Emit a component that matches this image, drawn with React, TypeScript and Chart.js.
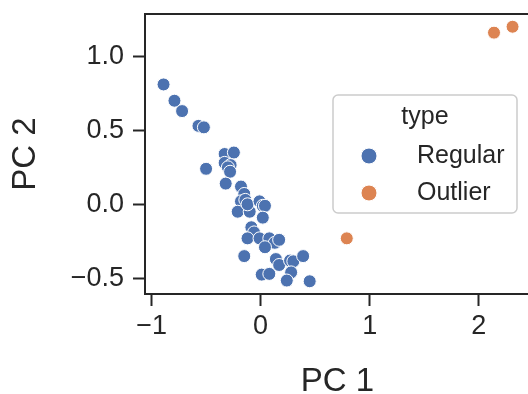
import React, { useEffect, useRef } from "react";
import { Chart, registerables } from "chart.js";

Chart.register(...registerables);

// ---- data ----
const regularX = [
  -0.89, -0.79, -0.72, -0.57, -0.52, -0.5, -0.33, -0.245, -0.33, -0.275, -0.3, -0.28,
  -0.32, -0.18, -0.15, -0.18, -0.14, -0.21, -0.1, -0.12, -0.01, 0.02, 0.04, 0.02,
  -0.085, -0.06, -0.12, -0.01, 0.08, 0.13, 0.17, 0.04, -0.15, 0.14, 0.17, 0.27,
  0.3, 0.39, 0.28, 0.01, 0.08, 0.24, 0.45,
];
const regularY = [
  0.81, 0.7, 0.63, 0.53, 0.52, 0.24, 0.34, 0.35, 0.28, 0.265, 0.25, 0.22,
  0.14, 0.12, 0.07, 0.02, 0.03, -0.05, -0.05, 0.0, 0.02, -0.01, -0.01, -0.09,
  -0.155, -0.19, -0.23, -0.23, -0.23, -0.26, -0.24, -0.29, -0.35, -0.37, -0.41, -0.38,
  -0.385, -0.35, -0.46, -0.475, -0.47, -0.515, -0.52,
];
const outlierX = [0.79, 2.14, 2.31];
const outlierY = [-0.23, 1.16, 1.2];

const seriesNames = ["Regular", "Outlier"];
const seriesColors = ["#4c72b0", "#dd8452"];
const legendTitle = "type";
const xTitle = "PC 1";
const yTitle = "PC 2";
const xTicks = [-1, 0, 1, 2];
const yTicks = [-0.5, 0, 0.5, 1.0];
const xRange = [-1.06, 2.47];
const yRange = [-0.606, 1.286];

const FONT = '"Liberation Sans", Arial, Helvetica, sans-serif';
const TEXT = "#262626";

const fmt = (v: number, d: number) => {
  const s = Math.abs(v).toFixed(d);
  return v < -1e-9 ? "\u2212" + s : s;
};

const framePlugin = {
  id: "frame",
  afterDatasetsDraw(chart: any) {
    const { ctx, chartArea } = chart;
    ctx.save();
    ctx.strokeStyle = TEXT;
    ctx.lineWidth = 2;
    ctx.beginPath();
    ctx.moveTo(chartArea.left - 1, chartArea.top);
    ctx.lineTo(chartArea.right + 1, chartArea.top);
    ctx.moveTo(chartArea.right, chartArea.top - 1);
    ctx.lineTo(chartArea.right, chartArea.bottom + 1);
    ctx.stroke();
    ctx.restore();
  },
};

const legendPlugin = {
  id: "customLegend",
  afterDatasetsDraw(chart: any) {
    const { ctx, chartArea } = chart;
    const left = chartArea.right - 197;
    const top = chartArea.top + 81;
    const w = 184;
    const h = 118;
    ctx.save();
    ctx.beginPath();
    (ctx as any).roundRect(left, top, w, h, 5);
    ctx.fillStyle = "rgba(255,255,255,0.85)";
    ctx.fill();
    ctx.strokeStyle = "#cccccc";
    ctx.lineWidth = 1.5;
    ctx.stroke();
    ctx.font = `25px ${FONT}`;
    ctx.fillStyle = TEXT;
    ctx.textBaseline = "middle";
    ctx.textAlign = "center";
    ctx.fillText(legendTitle, left + w / 2, top + 22);
    chart.data.datasets.forEach((ds: any, i: number) => {
      const y = top + 61 + i * 37;
      ctx.beginPath();
      ctx.arc(left + 36, y, 8, 0, Math.PI * 2);
      ctx.fillStyle = ds.backgroundColor;
      ctx.fill();
      ctx.strokeStyle = "#ffffff";
      ctx.lineWidth = 1;
      ctx.stroke();
      ctx.fillStyle = TEXT;
      ctx.textAlign = "left";
      ctx.fillText(ds.label, left + 84, y);
    });
    ctx.restore();
  },
};

export default function App() {
  const ref = useRef<HTMLCanvasElement | null>(null);

  useEffect(() => {
    if (!ref.current) return;
    const toPts = (xs: number[], ys: number[]) => xs.map((x, i) => ({ x, y: ys[i] }));
    const chart = new Chart(ref.current, {
      type: "scatter",
      data: {
        datasets: [
          {
            label: seriesNames[0],
            data: toPts(regularX, regularY),
            backgroundColor: seriesColors[0],
            borderColor: "#ffffff",
            borderWidth: 1,
            pointRadius: 6.5,
          },
          {
            label: seriesNames[1],
            data: toPts(outlierX, outlierY),
            backgroundColor: seriesColors[1],
            borderColor: "#ffffff",
            borderWidth: 1,
            pointRadius: 6.5,
          },
        ],
      },
      options: {
        animation: false,
        responsive: false,
        devicePixelRatio: 1,
        events: [],
        layout: { padding: { top: 14, right: 30, left: 0, bottom: 0 } },
        plugins: { legend: { display: false }, tooltip: { enabled: false } },
        scales: {
          x: {
            type: "linear",
            min: xRange[0],
            max: xRange[1],
            afterBuildTicks: (s: any) => {
              s.ticks = xTicks.map((v) => ({ value: v }));
            },
            afterFit: (s: any) => {
              s.height = 116;
              s.paddingLeft = 0;
              s.paddingRight = 0;
            },
            ticks: {
              callback: (v: any) => fmt(Number(v), 0),
              font: { family: FONT, size: 27 },
              color: TEXT,
              padding: 4,
              maxRotation: 0,
            },
            grid: {
              display: true,
              drawOnChartArea: false,
              drawTicks: true,
              tickLength: 12,
              tickWidth: 2,
              tickColor: TEXT,
            },
            border: { display: true, width: 2, color: TEXT },
            title: {
              display: true,
              text: xTitle,
              font: { family: FONT, size: 33 },
              color: TEXT,
              padding: { top: 0, bottom: 8 },
            },
          },
          y: {
            type: "linear",
            min: yRange[0],
            max: yRange[1],
            afterBuildTicks: (s: any) => {
              s.ticks = yTicks.map((v) => ({ value: v }));
            },
            afterFit: (s: any) => {
              s.width = 145;
              s.paddingTop = 0;
              s.paddingBottom = 0;
            },
            ticks: {
              callback: (v: any) => fmt(Number(v), 1),
              font: { family: FONT, size: 27 },
              color: TEXT,
              padding: 9,
            },
            grid: {
              display: true,
              drawOnChartArea: false,
              drawTicks: true,
              tickLength: 12,
              tickWidth: 2,
              tickColor: TEXT,
            },
            border: { display: true, width: 2, color: TEXT },
            title: {
              display: true,
              text: yTitle,
              font: { family: FONT, size: 33 },
              color: TEXT,
              padding: { top: 6, bottom: 0 },
            },
          },
        },
      } as any,
      plugins: [framePlugin, legendPlugin],
    });
    return () => chart.destroy();
  }, []);

  return (
    <div
      style={{
        position: "fixed",
        left: 0,
        top: 0,
        width: 528,
        height: 394,
        overflow: "hidden",
        background: "#ffffff",
      }}
    >
      <canvas ref={ref} width={560} height={410} style={{ width: 560, height: 410, display: "block" }} />
    </div>
  );
}
